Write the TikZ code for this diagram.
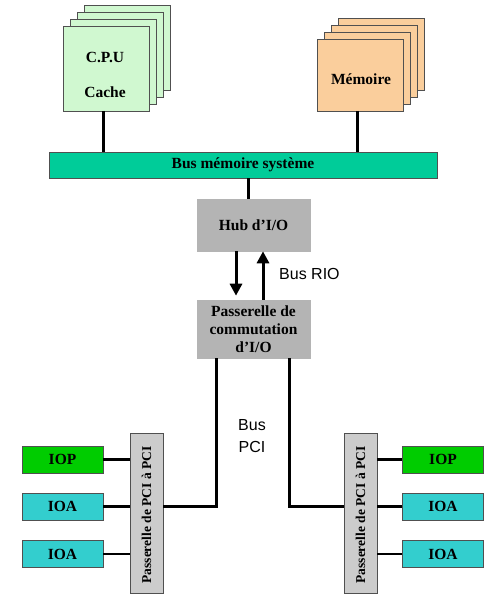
\documentclass[tikz,border=0pt]{standalone}
\usepackage{fontspec}
\setmainfont{Liberation Serif}
\newfontfamily\sansf{Liberation Sans}
\usetikzlibrary{arrows.meta,calc}
\definecolor{cpugreen}{RGB}{208,248,208}
\definecolor{mempeach}{RGB}{250,206,156}
\definecolor{busgreen}{RGB}{0,204,153}
\definecolor{hubgray}{RGB}{180,180,180}
\definecolor{bridgegray}{RGB}{204,204,204}
\definecolor{iopgreen}{RGB}{0,204,0}
\definecolor{ioacyan}{RGB}{51,206,206}
\definecolor{edgegray}{RGB}{80,80,80}
\begin{document}
\begin{tikzpicture}[x=1pt,y=-1pt,
  box/.style={draw=edgegray, line width=0.6pt, inner sep=0pt, align=center,
    font=\bfseries\fontsize{15.5}{18}\selectfont},
  cpubox/.style={box, fill=cpugreen, minimum width=86pt, minimum height=85pt},
  membox/.style={box, fill=mempeach, minimum width=86pt, minimum height=72pt},
  graybox/.style={box, fill=hubgray, draw=hubgray, minimum width=113pt},
  bridge/.style={box, fill=bridgegray, minimum width=33pt, minimum height=160pt},
  iobox/.style={box, minimum width=81pt, minimum height=27pt},
  wire/.style={line width=3pt},
  thinwire/.style={line width=2.2pt},
  bigarrow/.style={line width=3pt, -{Triangle[length=12pt,width=12pt]}},
  sanslabel/.style={font=\sansf\fontsize{16}{22}\selectfont, align=center, inner sep=0pt},
  vtext/.style={rotate=90, font=\bfseries\fontsize{13.5}{16}\selectfont, inner sep=0pt}
]
\useasboundingbox (0,0) rectangle (493,599);

% CPU stack
\node[cpubox] (cpu4) at (127,47.5) {};
\node[cpubox] (cpu3) at (120,54.5) {};
\node[cpubox] (cpu2) at (113,61.5) {};
\node[cpubox] (cpu) at (106,68.5) {};
\node[font=\bfseries\fontsize{15.5}{35}\selectfont, align=center, inner sep=0pt] (cputxt) at (105,75) {C.P.U\\Cache};

% Memory stack
\node[membox] (mem4) at (381,54) {};
\node[membox] (mem3) at (374,61) {};
\node[membox] (mem2) at (367,68) {};
\node[membox] (mem) at (360,75) {};
\node[font=\bfseries\fontsize{15.5}{18}\selectfont, inner sep=0pt] (memtxt) at (361,79) {Mémoire};

% System memory bus
\node[box, fill=busgreen, minimum width=388pt, minimum height=26pt] (bus) at (243,165) {Bus mémoire système};

\coordinate (cpuw) at (103,111);
\coordinate (memw) at (357,111);
\draw[wire] (cpuw) -- (cpuw |- bus.north);
\draw[wire] (memw) -- (memw |- bus.north);

% Hub
\node[graybox, minimum height=52pt] (hub) at (253.5,225) {Hub d’I/O};
\coordinate (hubw) at (248,190);
\draw[wire] (hubw |- hub.north) -- (hubw |- bus.south);

% Switch bridge
\node[graybox, minimum height=58pt] (pass) at (253.5,329) {Passerelle de\\commutation\\d’I/O};

\coordinate (dn) at (236,275);
\coordinate (up) at (263,275);
\draw[bigarrow] (dn |- hub.south) -- ($(dn |- pass.north)+(0,-4)$);
\draw[bigarrow] (up |- pass.north) -- (up |- hub.south);
\node[sanslabel, anchor=west] (rio) at (279,274) {Bus RIO};

% PCI bridges
\node[bridge] (brL) at (146.5,513) {};
\node[vtext] (brLtxt) at (146.5,515) {Passerelle de PCI à PCI};
\node[bridge] (brR) at (360.5,513) {};
\node[vtext] (brRtxt) at (360.5,515) {Passerelle de PCI à PCI};

\coordinate (cL) at (216,506);
\coordinate (cR) at (289,506);
\draw[wire] (pass.south -| cL) -- (cL) -- (cL -| brL.east);
\draw[wire] (pass.south -| cR) -- (cR) -- (cR -| brR.west);
\node[sanslabel] (pci) at (252,436) {Bus\\PCI};

% IO left
\node[iobox, fill=iopgreen] (iopL) at (62.5,459.5) {IOP};
\node[iobox, fill=ioacyan] (ioaL1) at (62.5,506.5) {IOA};
\node[iobox, fill=ioacyan] (ioaL2) at (62.5,554) {IOA};
% IO right
\node[iobox, fill=iopgreen] (iopR) at (443,459.5) {IOP};
\node[iobox, fill=ioacyan] (ioaR1) at (443,506.5) {IOA};
\node[iobox, fill=ioacyan] (ioaR2) at (443,554) {IOA};

\draw[thinwire] (iopL.east) -- (iopL.east -| brL.west);
\draw[wire] (ioaL1.east) -- (ioaL1.east -| brL.west);
\draw[thinwire] (ioaL2.east) -- (ioaL2.east -| brL.west);
\draw[thinwire] (iopR.west) -- (iopR.west -| brR.east);
\draw[wire] (ioaR1.west) -- (ioaR1.west -| brR.east);
\draw[thinwire] (ioaR2.west) -- (ioaR2.west -| brR.east);
\end{tikzpicture}
\end{document}
